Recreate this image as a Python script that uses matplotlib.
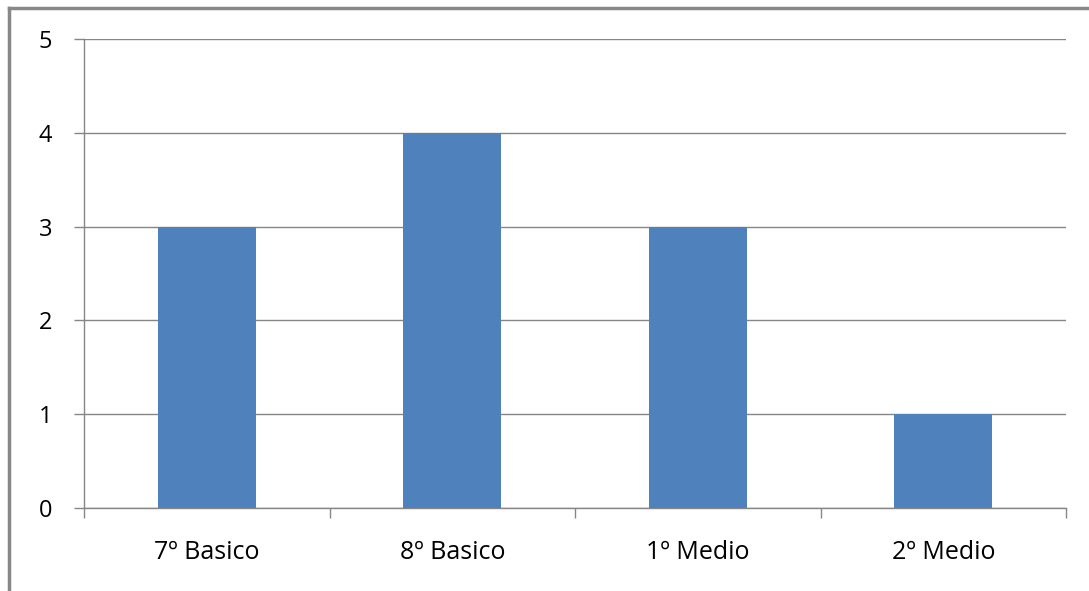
import matplotlib.pyplot as plt
from matplotlib.lines import Line2D

# datos
cursos = ['7º Basico', '8º Basico', '1º Medio', '2º Medio']
valores = [3, 4, 3, 1]
y_ticks = [0, 1, 2, 3, 4, 5]

plt.rcParams['font.family'] = ['Open Sans', 'DejaVu Sans']

fig = plt.figure(figsize=(10.89, 5.91), dpi=100)
ax = fig.add_axes([84 / 1089, 1 - 508 / 591, (1066 - 84) / 1089, (508 - 39) / 591])

gris = '#868686'
x = list(range(len(cursos)))
ax.bar(x, valores, width=0.40, color='#4F81BD', zorder=3)

ax.set_xlim(-0.5, len(cursos) - 0.5)
ax.set_ylim(0, 5)
ax.set_yticks(y_ticks)
ax.set_yticklabels([str(v) for v in y_ticks], fontsize=17)
ax.yaxis.grid(True, color=gris, linewidth=1)
ax.set_axisbelow(True)

ax.set_xticks(x)
ax.set_xticklabels(cursos, fontsize=18)
ax.set_xticks([i - 0.5 for i in range(len(cursos) + 1)], minor=True)
ax.tick_params(axis='x', which='major', length=0, pad=23)
ax.tick_params(axis='x', which='minor', length=7, color=gris, width=1)
ax.tick_params(axis='y', length=7, color=gris, width=1, pad=16)

for s in ['top', 'right']:
    ax.spines[s].set_visible(False)
for s in ['left', 'bottom']:
    ax.spines[s].set_color(gris)
    ax.spines[s].set_linewidth(1)

# borde del gráfico
fig.add_artist(Line2D([9 / 1089, 9 / 1089], [0, 1 - 8 / 591], color='#888888', linewidth=2.5))
fig.add_artist(Line2D([9 / 1089, 1], [1 - 8 / 591, 1 - 8 / 591], color='#888888', linewidth=2.5))

fig.savefig('out.png', dpi=100)
